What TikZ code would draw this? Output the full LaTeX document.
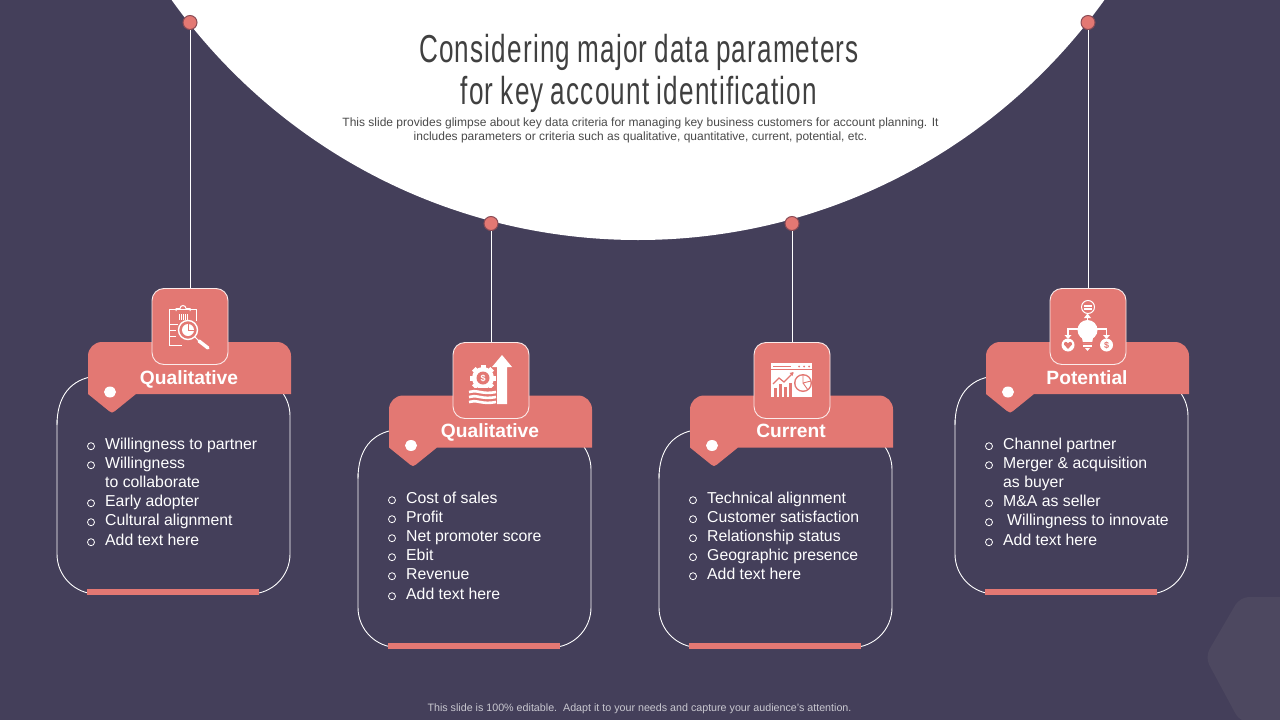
\documentclass[tikz,border=0pt]{standalone}
\usepackage{fontspec}
\setmainfont{Liberation Sans}
\newfontfamily\titlefont[FakeStretch=0.67,LetterSpace=3,WordSpace=0.85]{Liberation Sans}
\definecolor{bgc}{HTML}{443F5A}
\definecolor{pinkc}{HTML}{E37873}
\definecolor{pinedge}{HTML}{8A4B55}
\definecolor{hexc}{HTML}{4D4860}
\definecolor{titlec}{HTML}{404040}
\definecolor{subc}{HTML}{4A4A4A}
\definecolor{footc}{HTML}{C9C8D0}
\tikzset{
  cardline/.style={draw=white,line width=0.9pt,rounded corners=40pt},
  iconbox/.style={draw=white!85!pinkc,fill=pinkc,line width=0.9pt,rounded corners=12pt,minimum width=76pt,minimum height=76pt,inner sep=0pt},
  pindot/.style={circle,draw=pinedge,fill=pinkc,line width=1pt,minimum size=14pt,inner sep=0pt},
  connector/.style={draw=white,line width=0.9pt},
  ribbonlabel/.style={text=white,font=\fontsize{19.2}{20}\selectfont\bfseries,inner sep=0pt,anchor=base},
  itemtext/.style={text=white,font=\fontsize{15.8}{16}\selectfont,anchor=base west,inner sep=0pt},
  bulletring/.style={draw=white,line width=0.8pt},
  ico/.style={draw=white,line width=1.2pt,fill=none},
}
% card frame: #1 id, #2 dx, #3 dy, #4 label
\newcommand{\cardframe}[4]{%
  \begin{scope}[shift={(#2,#3)}]
    \draw[white,line width=0.9pt] (57,425) .. controls (57,397) and (70,379) .. (96,376);
    \draw[cardline] (120,376) -- (290,376) -- (290,594) -- (57,594) [sharp corners] -- (57,420);
    \fill[pinkc] (87,589) rectangle (259,595);
    \fill[pinkc] (88,394) -- (88,356) arc[start angle=180,end angle=270,x radius=14pt,y radius=-14pt] -- (277,342) arc[start angle=270,end angle=360,x radius=14pt,y radius=-14pt] -- (291,394) -- (136,394) -- (115,411) .. controls (113,413) and (111,413) .. (109,411) -- cycle;
    \fill[white] (110,392) ellipse (6pt and 5.5pt);
    \node[ribbonlabel] (label#1) at (189,384) {#4};
  \end{scope}}
\newcommand{\itemb}[3]{% x of ring, y, text
  \draw[bulletring] (#1,#2+2.2) circle (3.5pt);
  \node[itemtext] at (#1+14,#2+5.7) {#3};}
\newcommand{\itemc}[3]{\node[itemtext] at (#1+14,#2+5.7) {#3};}
\begin{document}
\begin{tikzpicture}[x=1pt,y=-1pt]
\useasboundingbox (0,0) rectangle (1280,720);
\fill[bgc] (0,0) rectangle (1280,720);
% hexagon
\fill[hexc,rounded corners=9pt] (1300,597) -- (1240,597) -- (1205,657) -- (1240,722) -- (1300,722) -- cycle;
% white arc
\begin{scope}
  \clip (0,0) rectangle (1280,720);
  \fill[white] (638,-333) circle (573pt);
\end{scope}
% title
\node[text=titlec,font=\titlefont\fontsize{39}{42.5}\selectfont,align=center,inner sep=0pt] (title) at (639,73.5) {Considering major data parameters\\for key account identification};
\node[text=subc,font=\fontsize{12}{14}\selectfont,align=center,inner sep=0pt] (sub) at (640.5,130) {This slide provides glimpse about key data criteria for managing key business customers for account planning. It\\includes parameters or criteria such as qualitative, quantitative, current, potential, etc.};
\node[text=footc,font=\fontsize{10.7}{12}\selectfont,inner sep=0pt] (foot) at (639.5,708.5) {This slide is 100\% editable.\ \ Adapt it to your needs and capture your audience's attention.};
% cards
\cardframe{a}{0}{0}{Qualitative}
\cardframe{b}{301}{53.5}{Qualitative}
\cardframe{c}{602}{53.5}{Current}
\cardframe{d}{898}{0}{Potential}
% pins, boxes, connectors
\node[pindot] (pina) at (190,22.5) {};
\node[pindot] (pinb) at (491,223.5) {};
\node[pindot] (pinc) at (792,223.5) {};
\node[pindot] (pind) at (1088,22.5) {};
\node[iconbox] (boxa) at (190,326.5) {};
\node[iconbox] (boxb) at (491,380.5) {};
\node[iconbox] (boxc) at (792,380.5) {};
\node[iconbox] (boxd) at (1088,326.5) {};
\draw[connector] (pina) -- (boxa);
\draw[connector] (pinb) -- (boxb);
\draw[connector] (pinc) -- (boxc);
\draw[connector] (pind) -- (boxd);
% icon a: clipboard + magnifier
\begin{scope}
  \draw[ico,line width=1pt] (196,321) -- (196,309.5) -- (169.5,309.5) -- (169.5,345) -- (182,345);
  \draw[white,line width=1pt] (176,311) -- (176,308.5) -- (180,308.5) arc[start angle=180,end angle=0,radius=3pt] -- (190,308.5) -- (190,311);
  \foreach \xx in {179,181,183,185,187}
    \draw[white,line width=0.7pt] (\xx,314) -- (\xx,320);
  \draw[white,line width=1pt] (169.5,324) -- (178,324) (169.5,330) -- (176,330) (169.5,336) -- (176,336);
  \draw[white,line width=1.4pt] (188,330) circle (9.5pt);
  \fill[white] (188,330) circle (6pt);
  \draw[pinkc,line width=0.8pt] (188,324) -- (188,330) -- (194,330);
  \draw[white,line width=1pt] (195,337) -- (199,341);
  \draw[white,line width=3.4pt,line cap=round] (199,341) -- (208,348);
\end{scope}
% icon b: gear + arrow + money
\begin{scope}
  \fill[white] (502,355) -- (512,367) -- (507,367) -- (507,404) -- (497,404) -- (497,367) -- (492,367) -- cycle;
  \fill[pinkc] (495,369) rectangle (497,388);
  \foreach \a in {0,45,...,315}
    \fill[white,rotate around={\a:(483,378)}] (480.5,365) rectangle (485.5,372);
  \fill[white] (483,378) circle (11pt);
  \fill[pinkc] (483,378) circle (6.5pt);
  \node[text=white,font=\fontsize{9}{9}\selectfont\bfseries,inner sep=0pt] (dollarb) at (483,378) {\$};
  \fill[pinkc] (466,388) rectangle (497,391);
  \foreach \yy in {392,397,402}
    \draw[white,line width=2.6pt] (469,\yy) .. controls (476,\yy-3) and (482,\yy+3) .. (496,\yy);
\end{scope}
% icon c: browser window with charts
\begin{scope}
  \fill[white] (771,363) rectangle (812,397);
  \draw[pinkc,line width=1pt] (773,366.5) -- (791,366.5);
  \foreach \xx in {799,804,809} \fill[pinkc] (\xx,366.5) circle (1pt);
  \draw[pinkc,line width=0.8pt] (771,369.5) -- (812,369.5);
  \draw[pinkc,line width=1.2pt] (773,384) -- (779,378) -- (784,382) -- (793,373);
  \fill[pinkc] (793.5,372) -- (789.5,373) -- (792.5,376) -- cycle;
  \foreach \xx/\yy in {774/388,779/384,784/387,789/383}
    \fill[pinkc] (\xx,\yy) rectangle (\xx+3,397);
  \fill[pinkc] (803,383) circle (9pt);
  \fill[white] (803,383) circle (7.5pt);
  \draw[pinkc,line width=0.9pt] (803,375) -- (803,383) -- (811,381) (803,383) -- (808,390);
\end{scope}
% icon d: bulb network
\begin{scope}
  \draw[white,line width=1pt] (1088,307) circle (6.5pt);
  \fill[white] (1084,305) rectangle (1092,310);
  \draw[pinkc,line width=0.6pt] (1084,307) -- (1092,307);
  \draw[white,line width=1.2pt] (1087.5,321) -- (1087.5,316);
  \fill[white] (1087.5,313.5) -- (1091,318) -- (1084,318) -- cycle;
  \fill[white] (1087.5,330) circle (10pt);
  \fill[white] (1081,333) -- (1094,333) -- (1092,343) -- (1083,343) -- cycle;
  \fill[pinkc] (1081,342) rectangle (1094,343);
  \fill[white] (1083,344.5) rectangle (1092,346.5);
  \fill[white] (1085,348) -- (1090,348) -- (1087.5,351) -- cycle;
  \draw[white,line width=1.2pt] (1078,329) -- (1068,329) -- (1068,336);
  \draw[white,line width=1.2pt] (1097,329) -- (1106.5,329) -- (1106.5,336);
  \fill[white] (1068,339) -- (1064.5,335) -- (1071.5,335) -- cycle;
  \fill[white] (1106.5,339) -- (1103,335) -- (1110,335) -- cycle;
  \fill[white] (1068,345) circle (6.5pt);
  \fill[white] (1106.5,345) circle (6.5pt);
  \fill[pinkc] (1068,349) -- (1064,344.5) .. controls (1063.5,341.5) and (1067,341) .. (1068,343.5) .. controls (1069,341) and (1072.5,341.5) .. (1072,344.5) -- cycle;
  \node[text=pinkc,font=\fontsize{9}{9}\selectfont\bfseries,inner sep=0pt] (dollard) at (1106.5,345) {\$};
\end{scope}
% lists
\itemb{91}{444}{Willingness to partner}
\itemb{91}{463}{Willingness}
\itemc{91}{482}{to collaborate}
\itemb{91}{501}{Early adopter}
\itemb{91}{520}{Cultural alignment}
\itemb{91}{540}{Add text here}
\itemb{392}{498}{Cost of sales}
\itemb{392}{517}{Profit}
\itemb{392}{536}{Net promoter score}
\itemb{392}{555}{Ebit}
\itemb{392}{574}{Revenue}
\itemb{392}{594}{Add text here}
\itemb{693}{498}{Technical alignment}
\itemb{693}{517}{Customer satisfaction}
\itemb{693}{536}{Relationship status}
\itemb{693}{555}{Geographic presence}
\itemb{693}{574}{Add text here}
\itemb{989}{444}{Channel partner}
\itemb{989}{463}{Merger \& acquisition}
\itemc{989}{482}{as buyer}
\itemb{989}{501}{M\&A as seller}
\itemb{989}{520}{\hspace{4pt}Willingness to innovate}
\itemb{989}{540}{Add text here}
\end{tikzpicture}
\end{document}
